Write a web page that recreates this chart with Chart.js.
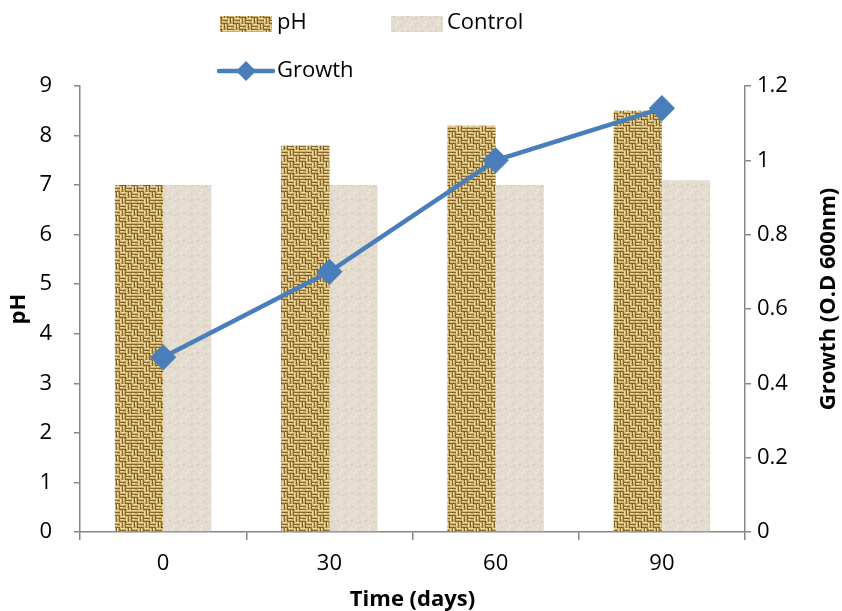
<!DOCTYPE html>
<html><head><meta charset="utf-8">
<script src="https://cdn.jsdelivr.net/npm/chart.js@4/dist/chart.umd.min.js"></script>
<style>html,body{margin:0;padding:0;background:#fff}#wrap{width:842px;height:611px}</style>
</head><body><div id="wrap"><canvas id="c" width="842" height="611"></canvas></div>
<script>
// Sampling times and measured values
const timeLabels = ['0', '30', '60', '90'];
const phValues = [7.0, 7.8, 8.2, 8.5];
const controlValues = [7.0, 7.0, 7.0, 7.1];
const growthValues = [0.47, 0.70, 1.00, 1.14];

const FONT = '"Open Sans", "Noto Sans", sans-serif';
const FS = 22;
const AXIS = '#868686';
const LINE = '#4a7ebb';

// Woven burlap texture for the pH bars
function burlapPattern(ctx) {
  const cell = 6, n = 4, s = cell * n, c = document.createElement('canvas');
  c.width = s; c.height = s;
  const g = c.getContext('2d');
  g.fillStyle = '#86672f'; g.fillRect(0, 0, s, s);
  for (let i = 0; i < n; i++) {
    for (let j = 0; j < n; j++) {
      const x = i * cell, y = j * cell;
      const flip = (i + j + (i === 2 && j === 1 ? 1 : 0)) % 2 === 0;
      if (flip) {
        g.fillStyle = '#cdb06b'; g.fillRect(x, y, cell, 2); g.fillRect(x, y + 3, cell, 2);
        g.fillStyle = '#f3e0a0'; g.fillRect(x + 1, y, cell - 2, 1); g.fillRect(x, y + 3, cell - 3, 1);
      } else {
        g.fillStyle = '#cdb06b'; g.fillRect(x, y, 2, cell); g.fillRect(x + 3, y, 2, cell);
        g.fillStyle = '#f3e0a0'; g.fillRect(x, y + 1, 1, cell - 2); g.fillRect(x + 3, y, 1, cell - 3);
      }
      if ((i * 3 + j * 2) % 4 === 0) { g.fillStyle = '#3f2a10'; g.fillRect(x + 5, y + 5, 1, 1); }
      if ((i + j * 3) % 5 === 1) { g.fillStyle = '#5a4018'; g.fillRect(x + 2, y + 2, 1, 1); }
    }
  }
  return ctx.createPattern(c, 'repeat');
}

// Light paper texture for the control bars
function paperPattern(ctx) {
  const s = 14, c = document.createElement('canvas');
  c.width = s; c.height = s;
  const g = c.getContext('2d');
  g.fillStyle = '#e4dccf'; g.fillRect(0, 0, s, s);
  const dots = [[1,2,'#d8cebd'],[5,7,'#ece6db'],[9,3,'#d7cdbc'],[3,10,'#ede7dd'],[8,11,'#dbd2c2'],[12,0,'#eae3d7'],[6,4,'#dcd4c4'],[11,8,'#dfd7c8']];
  dots.forEach(([x, y, col]) => { g.fillStyle = col; g.fillRect(x, y, 2, 2); });
  return ctx.createPattern(c, 'repeat');
}

const canvas = document.getElementById('c');
const ctx = canvas.getContext('2d');
const phFill = burlapPattern(ctx);
const ctrlFill = paperPattern(ctx);

// Legend and right-hand axis title drawn on top of the chart
const overlay = {
  id: 'overlay',
  afterDraw(chart) {
    const g = chart.ctx;
    g.save();
    g.font = FS + 'px ' + FONT;
    g.textBaseline = 'middle';
    g.textAlign = 'left';
    g.fillStyle = phFill; g.fillRect(220, 16, 52, 16);
    g.fillStyle = ctrlFill; g.fillRect(391, 16, 52, 16);
    g.fillStyle = '#000';
    g.fillText('pH', 277, 23);
    g.fillText('Control', 447, 23);
    g.strokeStyle = LINE; g.lineWidth = 4.5; g.lineCap = 'round';
    g.beginPath(); g.moveTo(219, 71); g.lineTo(273, 71); g.stroke();
    g.fillStyle = LINE;
    g.beginPath(); g.moveTo(246, 61); g.lineTo(256, 71); g.lineTo(246, 81); g.lineTo(236, 71); g.closePath(); g.fill();
    g.fillStyle = '#000';
    g.fillText('Growth', 277, 71);
    g.font = 'bold ' + FS + 'px ' + FONT;
    g.textAlign = 'center';
    g.translate(829, 299);
    g.rotate(-Math.PI / 2);
    g.fillText('Growth (O.D 600nm)', 0, 0);
    g.restore();
  }
};

new Chart(canvas, {
  data: {
    labels: timeLabels,
    datasets: [
      { type: 'line', label: 'Growth', data: growthValues, yAxisID: 'y1', order: 0,
        borderColor: LINE, backgroundColor: LINE, borderWidth: 4.5, tension: 0,
        pointStyle: 'rectRot', pointRadius: 10, pointHoverRadius: 10,
        pointBackgroundColor: LINE, pointBorderColor: LINE },
      { type: 'bar', label: 'pH', data: phValues, yAxisID: 'y', order: 1,
        backgroundColor: phFill, borderWidth: 0, categoryPercentage: 0.58, barPercentage: 1 },
      { type: 'bar', label: 'Control', data: controlValues, yAxisID: 'y', order: 1,
        backgroundColor: ctrlFill, borderWidth: 0, categoryPercentage: 0.58, barPercentage: 1 }
    ]
  },
  options: {
    responsive: false,
    animation: false,
    devicePixelRatio: 1,
    layout: { padding: { top: 86, left: 0, right: 0, bottom: 0 } },
    plugins: { legend: { display: false }, tooltip: { enabled: false } },
    scales: {
      x: {
        offset: true,
        grid: { offset: true, drawOnChartArea: false, drawTicks: true, tickLength: 8, color: AXIS, lineWidth: 1.5 },
        border: { color: AXIS, width: 1.5 },
        ticks: { font: { family: FONT, size: FS }, color: '#000', padding: 11, maxRotation: 0 },
        title: { display: true, text: 'Time (days)', font: { family: FONT, size: FS, weight: 'bold' }, color: '#000', padding: { top: 0, bottom: -2 } },
        afterFit(s) { s.height = 79; }
      },
      y: {
        position: 'left', min: 0, max: 9,
        grid: { drawOnChartArea: false, drawTicks: true, tickLength: 6, color: AXIS, lineWidth: 1.5 },
        border: { color: AXIS, width: 1.5 },
        ticks: { stepSize: 1, font: { family: FONT, size: FS }, color: '#000', padding: 22 },
        title: { display: true, text: 'pH', font: { family: FONT, size: FS, weight: 'bold' }, color: '#000', padding: { top: 6, bottom: 0 } },
        afterFit(s) { s.width = 80; }
      },
      y1: {
        position: 'right', min: 0, max: 1.2,
        grid: { drawOnChartArea: false, drawTicks: true, tickLength: 6, color: AXIS, lineWidth: 1.5 },
        border: { color: AXIS, width: 1.5 },
        ticks: { stepSize: 0.2, font: { family: FONT, size: FS }, color: '#000', padding: 6,
          callback: v => String(Number(v.toFixed(1))) },
        afterFit(s) { s.width = 97; }
      }
    }
  },
  plugins: [overlay]
});
</script>
</body></html>
